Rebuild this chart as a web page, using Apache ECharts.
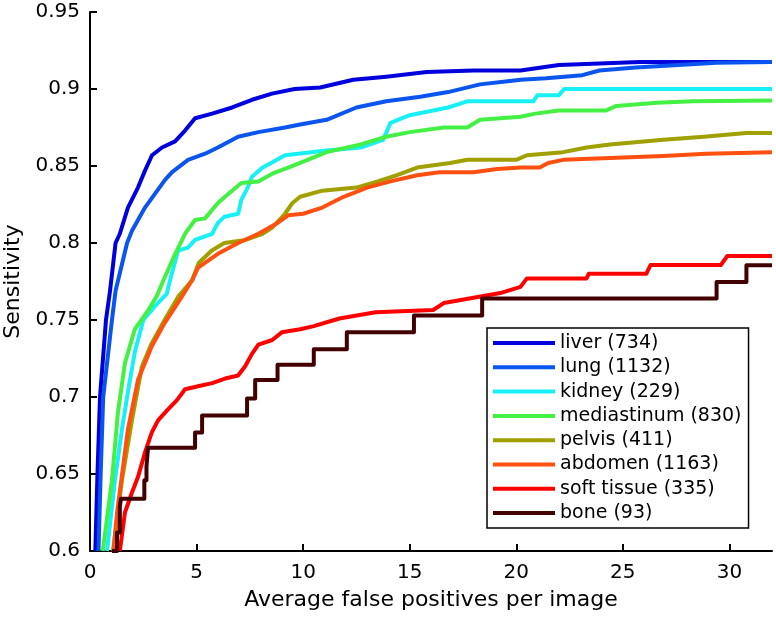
<!DOCTYPE html>
<html>
<head>
<meta charset="utf-8">
<script src="https://cdn.jsdelivr.net/npm/echarts@6/dist/echarts.min.js"></script>
<style>
html,body{margin:0;padding:0;background:#fff;}
#c{width:776px;height:620px;}
</style>
</head>
<body>
<div id="c"></div>
<script>
// ---- data ----
const seriesNames = ['liver (734)','lung (1132)','kidney (229)','mediastinum (830)','pelvis (411)','abdomen (1163)','soft tissue (335)','bone (93)'];
const seriesColors = ['#0000dc','#0a55f0','#18f0f8','#44f044','#a0a000','#ff5010','#ff0000','#420000'];

const xTicks = [0,5,10,15,20,25,30];
const yTicks = [0.6,0.65,0.7,0.75,0.8,0.85,0.9,0.95];

const liverData = [[0.25,0.6],[0.35,0.65],[0.47,0.7],[0.75,0.75],[0.94,0.769],[1.2,0.8],[1.4,0.806],[1.78,0.823],[2.25,0.836],[2.58,0.847],[2.91,0.857],[3.38,0.862],[3.99,0.866],[4.46,0.873],[4.93,0.881],[5.73,0.884],[6.67,0.888],[7.6,0.893],[8.54,0.897],[9.6,0.9],[10.8,0.901],[12.35,0.906],[13.9,0.908],[15.8,0.911],[18,0.912],[20.2,0.912],[22,0.9156],[25.8,0.9175],[32,0.9175]];
const lungData = [[0.4,0.6],[0.5,0.65],[0.62,0.7],[1.03,0.75],[1.2,0.769],[1.74,0.8],[1.97,0.808],[2.58,0.823],[3.52,0.841],[3.85,0.846],[4.6,0.854],[5.4,0.858],[6.0,0.862],[6.95,0.869],[7.9,0.872],[9.15,0.875],[9.86,0.877],[11.1,0.88],[12.5,0.888],[13.9,0.892],[15.5,0.895],[16.8,0.898],[18.3,0.903],[19.6,0.905],[20.2,0.906],[21.4,0.907],[23.1,0.909],[23.9,0.912],[25.6,0.914],[27.6,0.9156],[29.4,0.917],[32,0.9175]];
const kidneyData = [[0.8,0.6],[1.17,0.646],[1.5,0.679],[1.8,0.705],[2.1,0.729],[2.5,0.75],[3.05,0.759],[3.6,0.767],[3.76,0.776],[4.13,0.795],[4.6,0.797],[4.93,0.802],[5.73,0.806],[6.0,0.813],[6.3,0.817],[6.95,0.819],[7.1,0.828],[7.4,0.836],[7.6,0.843],[8.1,0.849],[8.5,0.852],[9.15,0.857],[11.1,0.86],[12.7,0.862],[13.75,0.867],[14.1,0.878],[15,0.883],[16.1,0.886],[16.8,0.888],[17.7,0.892],[20.8,0.892],[21,0.896],[22,0.896],[22.25,0.9],[32,0.9]];
const mediastinumData = [[0.6,0.6],[1.03,0.646],[1.31,0.69],[1.64,0.722],[2.1,0.744],[2.72,0.756],[3.15,0.766],[3.45,0.776],[4,0.793],[4.46,0.806],[4.93,0.815],[5.4,0.816],[6,0.826],[6.5,0.832],[7.1,0.839],[7.9,0.84],[8.55,0.845],[9.3,0.849],[9.86,0.852],[11.1,0.859],[12.7,0.864],[13.9,0.869],[15,0.872],[16.6,0.875],[17.7,0.875],[18.3,0.88],[20.2,0.882],[20.9,0.884],[22,0.886],[24.2,0.886],[24.7,0.889],[26.6,0.891],[28.3,0.892],[32,0.8925]];
const pelvisData = [[1.08,0.6],[1.5,0.646],[1.97,0.685],[2.44,0.72],[2.9,0.735],[3.5,0.75],[4.13,0.765],[4.8,0.776],[5.1,0.787],[5.7,0.795],[6.3,0.8],[7.3,0.802],[8.1,0.806],[8.55,0.81],[9.15,0.819],[9.5,0.826],[9.86,0.83],[10.9,0.834],[12.5,0.836],[13.5,0.84],[14.4,0.844],[15.35,0.849],[16.9,0.852],[17.7,0.854],[20,0.854],[20.5,0.857],[22.2,0.859],[23.3,0.862],[24.4,0.864],[26.9,0.867],[28.8,0.869],[30.8,0.8715],[32,0.8715]];
const abdomenData = [[1.1,0.6],[1.27,0.625],[1.78,0.679],[2.25,0.711],[2.9,0.733],[3.5,0.748],[4.3,0.765],[4.8,0.776],[5.07,0.784],[6,0.793],[6.95,0.8],[7.9,0.806],[8.8,0.813],[9.3,0.818],[10,0.819],[10.9,0.823],[11.9,0.83],[13,0.836],[14.1,0.84],[15.35,0.844],[16.4,0.846],[18,0.846],[19.1,0.848],[20.2,0.849],[21.1,0.849],[21.5,0.852],[22.2,0.854],[24.1,0.855],[26.9,0.8565],[28.9,0.858],[32,0.859]];
const softTissueData = [[1.4,0.6],[1.64,0.625],[1.97,0.638],[2.25,0.648],[2.58,0.664],[2.9,0.677],[3.2,0.685],[3.66,0.692],[4.08,0.698],[4.46,0.705],[5.07,0.707],[5.73,0.709],[6.34,0.712],[6.95,0.714],[7.28,0.72],[7.6,0.728],[7.9,0.734],[8.55,0.737],[9,0.742],[9.86,0.744],[10.5,0.746],[11.7,0.751],[13.4,0.755],[16.1,0.7565],[16.6,0.761],[17.8,0.764],[19.25,0.7675],[20.2,0.7715],[20.5,0.777],[23.3,0.777],[23.4,0.78],[26.1,0.78],[26.3,0.7857],[29.6,0.7857],[29.9,0.7915],[32,0.7915]];
const boneData = [[1.03,0.6],[1.27,0.612],[1.4,0.6285],[1.45,0.634],[2.55,0.646],[2.65,0.655],[2.72,0.667],[4.93,0.677],[5.26,0.688],[7.37,0.699],[7.75,0.711],[8.8,0.721],[10.5,0.731],[12.05,0.742],[15.2,0.753],[18.4,0.764],[29.4,0.7747],[30.8,0.7855],[32,0.7855]];

const allData = [liverData,lungData,kidneyData,mediastinumData,pelvisData,abdomenData,softTissueData,boneData];
const stepFlags = [false,false,false,false,false,false,false,'end'];

const FONT = 'DejaVu Sans';
const chart = echarts.init(document.getElementById('c'), null, {renderer:'canvas'});

chart.setOption({
  animation: false,
  backgroundColor: '#ffffff',
  grid: {left: 90, top: 12, right: 4, bottom: 69, containLabel: false, outerBoundsMode: 'none'},
  legend: {
    orient: 'vertical',
    left: 487, top: 328,
    padding: [5, 7, 5, 6],
    itemWidth: 62, itemHeight: 4, itemGap: 4.3,
    icon: 'rect',
    backgroundColor: '#ffffff',
    borderColor: '#000000', borderWidth: 1.5,
    textStyle: {fontFamily: FONT, fontSize: 19, color: '#000', lineHeight: 20},
    data: seriesNames
  },
  xAxis: {
    type: 'value', min: 0, max: 32,
    name: 'Average false positives per image',
    nameLocation: 'middle', nameGap: 38,
    nameTextStyle: {fontFamily: FONT, fontSize: 22, color: '#000'},
    axisLine: {show: true, onZero: false, lineStyle: {color: '#000', width: 2}},
    axisTick: {show: true, inside: true, length: 7, customValues: xTicks, lineStyle: {color: '#000', width: 2}},
    axisLabel: {customValues: xTicks, margin: 12, fontFamily: FONT, fontSize: 20, color: '#000'},
    splitLine: {show: false}
  },
  yAxis: {
    type: 'value', min: 0.6, max: 0.95,
    name: 'Sensitivity',
    nameLocation: 'middle', nameGap: 65,
    nameTextStyle: {fontFamily: FONT, fontSize: 22, color: '#000'},
    axisLine: {show: true, onZero: false, lineStyle: {color: '#000', width: 2}},
    axisTick: {show: true, inside: true, length: 7, customValues: yTicks, lineStyle: {color: '#000', width: 2}},
    axisLabel: {customValues: yTicks, margin: 10, fontFamily: FONT, fontSize: 20, color: '#000',
      formatter: v => String(parseFloat(Number(v).toFixed(2)))},
    splitLine: {show: false}
  },
  series: seriesNames.map((n, i) => ({
    name: n,
    type: 'line',
    data: allData[i],
    step: stepFlags[i],
    symbol: 'none', showSymbol: false,
    clip: true,
    color: seriesColors[i],
    lineStyle: {color: seriesColors[i], width: 4, join: 'round'},
    emphasis: {disabled: true}
  }))
});
</script>
</body>
</html>
